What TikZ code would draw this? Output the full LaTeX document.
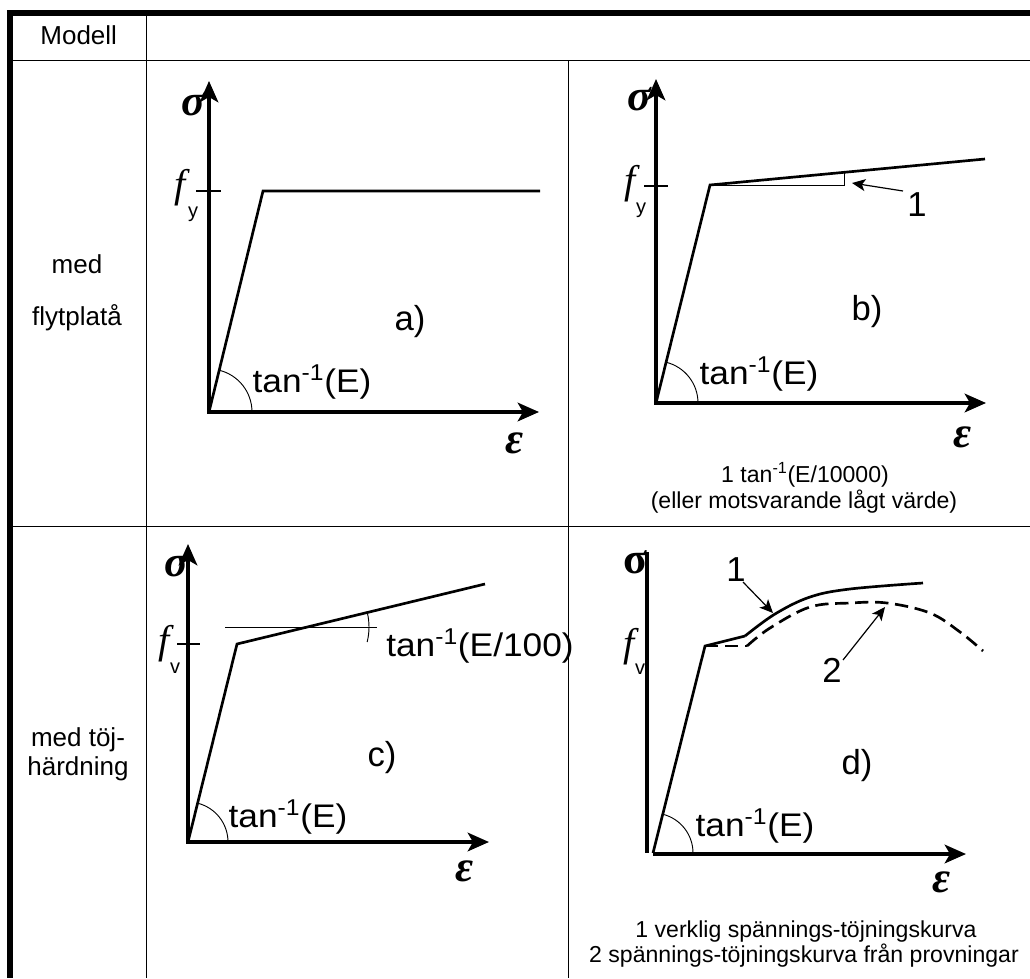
\documentclass[tikz,border=0pt]{standalone}
\usepackage{fontspec}
\setmainfont{Liberation Sans}
\newfontfamily\serifgr{Liberation Serif}
\usetikzlibrary{arrows.meta}
\newcommand\mytan{tan\textsuperscript{-1}}
\begin{document}
\begin{tikzpicture}[x=0.75pt,y=-0.75pt,
  thickrule/.style={line width=4.4pt},
  thinrule/.style={line width=1pt},
  axes/.style={line width=2.4pt, line join=miter,
    arrows={Stealth[length=16pt,width=14pt,inset=4pt]-Stealth[length=16pt,width=14pt,inset=4pt]}},
  xaxis/.style={line width=2.4pt, -{Stealth[length=16pt,width=14pt,inset=4pt]}},
  plain/.style={line width=2.4pt},
  tickmark/.style={line width=2pt},
  curve/.style={line width=2pt, line join=miter},
  dashcurve/.style={line width=2pt, dash pattern=on 10pt off 5pt},
  helper/.style={line width=0.7pt},
  pointer/.style={line width=0.9pt, -{Stealth[length=10pt,width=9pt,inset=2.5pt]}},
  rowlbl/.style={font=\fontsize{19.5}{23}\selectfont, inner sep=0pt, anchor=base},
  tanlbl/.style={font=\fontsize{24.5}{28}\selectfont, inner sep=0pt},
  panel/.style={font=\fontsize{26}{30}\selectfont, inner sep=0pt},
  numlbl/.style={font=\fontsize{26}{30}\selectfont, inner sep=0pt},
  caption/.style={font=\fontsize{17.3}{20}\selectfont, inner sep=0pt},
  grk/.style={font=\serifgr\bfseries\itshape\fontsize{33}{36}\selectfont, inner sep=0pt},
  fsym/.style={font=\serifgr\itshape\fontsize{30}{33}\selectfont, inner sep=0pt},
  fsub/.style={font=\fontsize{15}{17}\selectfont, inner sep=0pt}
]
\useasboundingbox (0,0) rectangle (1030,978);

% ---------- table ----------
\draw[thickrule] (6.8,13.3) -- (1030,13.3);
\draw[thickrule] (9.7,11.1) -- (9.7,978);
\draw[thinrule] (12,60.7) -- (1030,60.7);
\draw[thinrule] (12,526.5) -- (1030,526.5);
\draw[thinrule] (146.7,15.5) -- (146.7,978);
\draw[thinrule] (568.3,60.7) -- (568.3,978);

\node[rowlbl] (modell) at (78.7,44) {Modell};
\node[rowlbl] (med1) at (77,273) {med};
\node[rowlbl] (flyt) at (77,325) {flytplatå};
\node[rowlbl] (med2) at (78,746.5) {med töj-};
\node[rowlbl] (hard) at (78,775) {härdning};

% ---------- panel a ----------
\coordinate (Oa) at (209,412);
\coordinate (Ya) at (209,81);
\coordinate (Xa) at (539,412);
\coordinate (Ka) at (263,191);
\coordinate (Ea) at (540,191);
\draw[axes] (Ya) -- (Oa) -- (Xa);
\draw[tickmark] (196,191) -- (221,191);
\draw[curve] (Oa) -- (Ka) -- (Ea);
\draw[helper] (252,412) arc[start angle=0,end angle=-76.3,radius=43];
\node[grk] (siga) at (193,104) {σ};
\node[fsym] (fa) at (180,188) {f};
\node[fsub] (fya) at (193,214) {y};
\node[tanlbl] (tana) at (312,382) {\scalebox{1.08}[1]{\mytan(E)}};
\node[panel] (pa) at (410,322) {a)};
\node[grk] (epsa) at (515,443) {ε};

% ---------- panel b ----------
\coordinate (Ob) at (656,403);
\coordinate (Yb) at (656,79);
\coordinate (Xb) at (986,403);
\coordinate (Kb) at (710,185);
\coordinate (Eb) at (985,159);
\coordinate (Hb) at (844,185);
\coordinate (Vb) at (844,172.3);
\coordinate (Pb) at (903,191);
\coordinate (Qb) at (852,183);
\draw[axes] (Yb) -- (Ob) -- (Xb);
\draw[tickmark] (644,186) -- (668,186);
\draw[curve] (Ob) -- (Kb) -- (Eb);
\draw[helper] (Kb) -- (Hb) -- (Vb);
\draw[helper] (698,403) arc[start angle=0,end angle=-76.1,radius=42];
\draw[pointer] (Pb) -- (Qb);
\node[numlbl] (oneb) at (917,205) {1};
\node[grk] (sigb) at (639,99) {σ};
\node[fsym] (fb) at (630,184) {f};
\node[fsub] (fyb) at (641,210) {y};
\node[tanlbl] (tanb) at (759,374) {\scalebox{1.08}[1]{\mytan(E)}};
\node[panel] (pb) at (867,312) {b)};
\node[grk] (epsb) at (963,437) {ε};
\node[caption] (capb1) at (805,475) {1 \mytan(E/10000)};
\node[caption] (capb2) at (804,502) {(eller motsvarande lågt värde)};

% ---------- panel c ----------
\coordinate (Oc) at (188,842);
\coordinate (Yc) at (188,544);
\coordinate (Xc) at (489,842);
\coordinate (Kc) at (237,644);
\coordinate (Ec) at (485,584);
\coordinate (Hc1) at (225,627);
\coordinate (Hc2) at (377,627);
\coordinate (Cc) at (307,627);
\draw[axes] (Yc) -- (Oc) -- (Xc);
\draw[tickmark] (177,644) -- (200,644);
\draw[curve] (Oc) -- (Kc) -- (Ec);
\draw[helper] (Hc1) -- (Hc2);
\draw[helper] (Cc) ++(14:62) arc[start angle=14,end angle=-13.6,radius=62];
\draw[helper] (228,842) arc[start angle=0,end angle=-76.1,radius=40];
\node[grk] (sigc) at (176,565) {σ};
\node[fsym] (fc) at (164,644) {f};
\node[fsub] (fvc) at (175,668) {v};
\node[tanlbl, anchor=west] (tanc) at (386,646) {\scalebox{1.08}[1]{\mytan(E/100)}};
\node[panel] (pc) at (382,758) {c)};
\node[tanlbl] (tanc2) at (288,817) {\scalebox{1.08}[1]{\mytan(E)}};
\node[grk] (epsc) at (465,871) {ε};

% ---------- panel d ----------
\coordinate (Od) at (653,853);
\coordinate (Yd1) at (647,552);
\coordinate (Yd2) at (647,853);
\coordinate (Xd1) at (653,854);
\coordinate (Xd2) at (966,854);
\coordinate (Kd) at (705,646);
\coordinate (Ld) at (745,636);
\coordinate (Md) at (747,646);
\draw[plain] (Yd1) -- (Yd2);
\draw[xaxis] (Xd1) -- (Xd2);
\draw[curve] (Od) -- (Kd) -- (Ld);
\draw[curve] plot[smooth, tension=0.6] coordinates {(745,636) (775,614) (810,597) (850,589) (923,583)};
\draw[dashcurve] (Kd) -- (Md);
\draw[dashcurve] plot[smooth, tension=0.6] coordinates {(747,646) (770,628) (810,607) (850,603) (887,603) (930,613) (960,632) (983,651)};
\draw[helper] (693,853) arc[start angle=0,end angle=-75.9,radius=40];
\coordinate (P1) at (743,582);
\coordinate (Q1) at (773,613);
\coordinate (P2) at (843,660);
\coordinate (Q2) at (885,607);
\draw[pointer] (P1) -- (Q1);
\draw[pointer] (P2) -- (Q2);
\node[numlbl] (oned) at (736,570) {1};
\node[numlbl] (twod) at (832,670) {2};
\node[grk, font=\serifgr\bfseries\fontsize{33}{36}\selectfont] (sigd) at (635,562) {σ};
\node[fsym] (fd) at (629,647) {f};
\node[fsub] (fvd) at (640,669) {v};
\node[panel] (pd) at (857,766) {d)};
\node[tanlbl] (tand) at (755,826) {\scalebox{1.08}[1]{\mytan(E)}};
\node[grk] (epsd) at (942,882) {ε};
\node[caption] (capd1) at (806,932) {1 verklig spännings-töjningskurva};
\node[caption] (capd2) at (804,956) {2 spännings-töjningskurva från provningar};
\end{tikzpicture}
\end{document}
